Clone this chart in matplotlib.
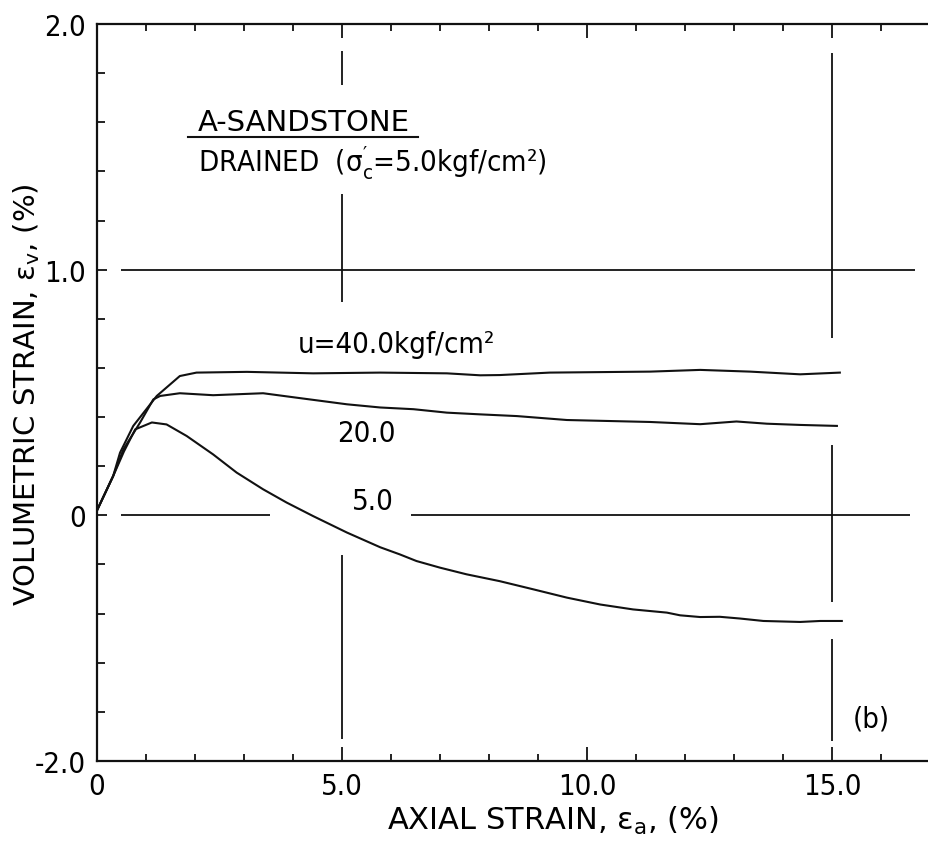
import matplotlib
matplotlib.use("Agg")
import matplotlib.pyplot as plt
from matplotlib.ticker import MultipleLocator

plt.rcParams['font.family'] = ['DejaVu Sans']
plt.rcParams['mathtext.fontset'] = 'dejavusans'

# ---- data ----
strain_40 = [0.0, 0.33, 0.47, 0.74, 1.22, 1.69, 2.03, 3.06, 4.41, 5.78, 7.14, 7.82, 8.22, 9.24, 11.29, 12.31, 13.33, 14.35, 15.16]
vol_40 = [0.02, 0.16, 0.255, 0.364, 0.486, 0.567, 0.581, 0.584, 0.578, 0.581, 0.578, 0.570, 0.571, 0.581, 0.585, 0.592, 0.585, 0.574, 0.581]

strain_20 = [0.0, 0.33, 0.54, 0.88, 1.15, 1.29, 1.69, 2.37, 3.39, 4.07, 5.1, 5.78, 6.46, 7.14, 7.82, 8.57, 9.59, 11.29, 12.31, 13.05, 13.67, 14.35, 15.1]
vol_20 = [0.02, 0.16, 0.269, 0.378, 0.472, 0.486, 0.497, 0.489, 0.497, 0.479, 0.452, 0.439, 0.432, 0.418, 0.411, 0.404, 0.388, 0.38, 0.371, 0.382, 0.373, 0.368, 0.364]

strain_5 = [0.0, 0.33, 0.55, 0.78, 1.12, 1.42, 1.83, 2.37, 2.85, 3.39, 3.87, 4.41, 5.1, 5.78, 6.18, 6.52, 7.0, 7.54, 8.22, 8.9, 9.59, 10.27, 10.94, 11.63, 11.9, 12.31, 12.71, 13.12, 13.6, 14.35, 14.76, 15.2]
vol_5 = [0.02, 0.16, 0.26, 0.35, 0.378, 0.37, 0.323, 0.248, 0.174, 0.106, 0.052, -0.003, -0.07, -0.13, -0.159, -0.186, -0.213, -0.24, -0.268, -0.301, -0.335, -0.363, -0.383, -0.396, -0.407, -0.414, -0.413, -0.42, -0.43, -0.434, -0.43, -0.43]

x_ticks = [0, 5, 10, 15]
x_tick_labels = ["0", "5.0", "10.0", "15.0"]
y_ticks = [-1, 0, 1, 2]
y_tick_labels = ["-2.0", "0", "1.0", "2.0"]

# reference lines drawn in the original (broken around labels and curves)
hline_segments = [(1.0, 0.5, 16.7), (0.0, 0.5, 3.53), (0.0, 6.4, 16.6)]
vline_segments = [(5.0, 1.89, 1.75), (5.0, 1.31, 0.87), (5.0, -0.16, -0.91),
                  (15.0, 1.88, 0.72), (15.0, 0.285, -0.354), (15.0, -0.505, -0.917)]

fig = plt.figure(figsize=(9.29, 8.45), dpi=100)
ax = fig.add_axes([97/929, 83/845, 832/929, 737/845])

lw = 1.5
col = '#111111'
for y, x0, x1 in hline_segments:
    ax.plot([x0, x1], [y, y], color=col, lw=1.3, solid_capstyle='butt')
for x, y0, y1 in vline_segments:
    ax.plot([x, x], [y0, y1], color=col, lw=1.3, solid_capstyle='butt')

ax.plot(strain_40, vol_40, color=col, lw=lw)
ax.plot(strain_20, vol_20, color=col, lw=lw)
ax.plot(strain_5, vol_5, color=col, lw=lw)

ax.set_xlim(0, 832/49)
ax.set_ylim(-1, 2)
ax.spines['right'].set_visible(False)
for s in ['left', 'top', 'bottom']:
    ax.spines[s].set_linewidth(1.6)
    ax.spines[s].set_color(col)

ax.set_xticks(x_ticks)
ax.set_xticklabels(x_tick_labels, fontstretch='condensed')
ax.set_yticks(y_ticks)
ax.set_yticklabels(y_tick_labels, fontstretch='condensed')
ax.xaxis.set_minor_locator(MultipleLocator(1))
ax.yaxis.set_minor_locator(MultipleLocator(0.2))
ax.tick_params(axis='x', which='both', direction='in', top=True, bottom=True, color=col, width=1.3)
ax.tick_params(axis='x', which='major', length=10, pad=8, labelsize=21)
ax.tick_params(axis='x', which='minor', length=5)
ax.tick_params(axis='y', which='both', direction='in', left=True, right=False, color=col, width=1.3)
ax.tick_params(axis='y', which='major', length=7, pad=8, labelsize=21)
ax.tick_params(axis='y', which='minor', length=6)

ax.set_xlabel(r"AXIAL STRAIN, $\mathregular{\varepsilon_a}$, (%)", fontsize=22)
ax.xaxis.set_label_coords((553 - 97) / 832, -0.058)
ax.set_ylabel(r"VOLUMETRIC STRAIN, $\mathregular{\varepsilon_v}$, (%)", fontsize=21)
ax.yaxis.set_label_coords(-0.066, 0.498)

def px(xp, yp):
    return ((xp - 97) / 832, (762 - yp) / 737)

ax.text(*px(198, 131), "A-SANDSTONE", transform=ax.transAxes, fontsize=21, ha='left', va='baseline')
ax.plot([(188-97)/832, (418-97)/832], [(762-138)/737]*2, transform=ax.transAxes, color=col, lw=1.5)
ax.text(*px(198, 172), r"DRAINED  ($\mathregular{\sigma^{\prime}_c}$=5.0kgf/cm²)", transform=ax.transAxes,
        fontsize=21, ha='left', va='baseline', fontstretch='condensed')
ax.text(*px(298, 353), "u=40.0kgf/cm²", transform=ax.transAxes, fontsize=21, ha='left', va='baseline',
        fontstretch='condensed')
ax.text(*px(337, 442), "20.0", transform=ax.transAxes, fontsize=21, ha='left', va='baseline',
        fontstretch='condensed')
ax.text(*px(352, 510), "5.0", transform=ax.transAxes, fontsize=21, ha='left', va='baseline',
        fontstretch='condensed')
ax.text(*px(853, 728), "(b)", transform=ax.transAxes, fontsize=21, ha='left', va='baseline',
        fontstretch='condensed')

fig.savefig("out.png", dpi=100)
